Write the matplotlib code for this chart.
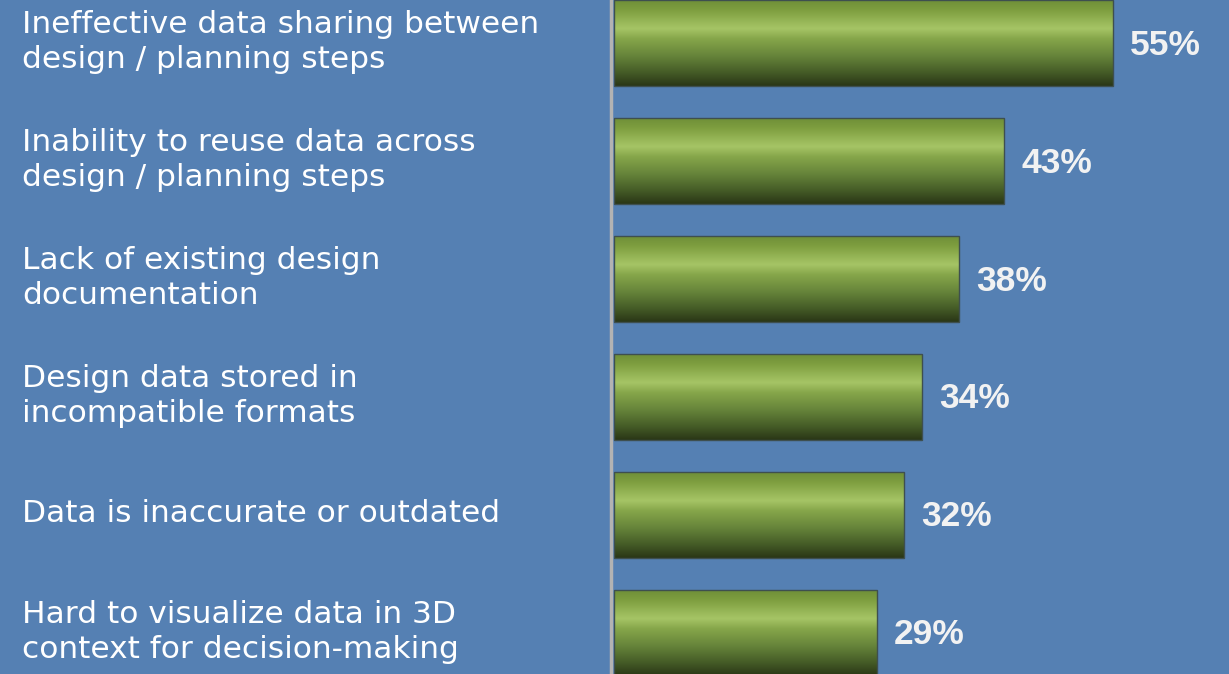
import matplotlib
matplotlib.use("Agg")
import matplotlib.pyplot as plt
import numpy as np
from matplotlib.colors import LinearSegmentedColormap

categories = [
    "Ineffective data sharing between\ndesign / planning steps",
    "Inability to reuse data across\ndesign / planning steps",
    "Lack of existing design\ndocumentation",
    "Design data stored in\nincompatible formats",
    "Data is inaccurate or outdated",
    "Hard to visualize data in 3D\ncontext for decision-making",
]
values = [55, 43, 38, 34, 32, 29]
value_labels = ["55%", "43%", "38%", "34%", "32%", "29%"]

W, H = 1229, 674
fig = plt.figure(figsize=(W / 100, H / 100), dpi=100)
bg = "#5580b3"
fig.patch.set_facecolor(bg)
ax = fig.add_axes([0, 0, 1, 1])
ax.set_facecolor(bg)

px_per_unit = (1113 - 614) / 55.0
x0_px = 614
ax.set_xlim(-x0_px / px_per_unit, (W - x0_px) / px_per_unit)
pitch = 118.0
c0 = 43.0
ax.set_ylim((H - c0) / pitch, -c0 / pitch)
ax.axis("off")

bar_h = 86 / pitch
cmap = LinearSegmentedColormap.from_list(
    "g",
    [(0.0, "#6f8f38"), (0.12, "#7f9f40"), (0.33, "#a6c566"), (0.45, "#86a64a"),
     (0.65, "#66843a"), (0.85, "#445a26"), (1.0, "#2a3616")],
)
grad = np.linspace(0, 1, 256).reshape(-1, 1)

ypos = np.arange(len(values))
bars = ax.barh(ypos, values, height=bar_h, left=0, color="none",
               edgecolor="#3e4f4f", linewidth=1.0, zorder=3)
for b in bars:
    x, y = b.get_x(), b.get_y()
    w, h = b.get_width(), b.get_height()
    im = ax.imshow(grad, cmap=cmap, aspect="auto", extent=(x, x + w, y + h, y),
                   zorder=2, interpolation="bicubic")
    im.set_clip_path(b)

ax.axvline(-3 / px_per_unit, color="#b3b3b3", linewidth=2.5, zorder=4)

for i, (cat, v, lab) in enumerate(zip(categories, values, value_labels)):
    ax.text(v + 17 / px_per_unit, i + 2 / pitch, lab, ha="left", va="center",
            fontsize=25.5, fontweight="bold", color="#f2f2f2",
            family="Liberation Sans")
    ax.text(-592 / px_per_unit, i - 1 / pitch, cat, ha="left", va="center",
            fontsize=22.5, color="white", family="DejaVu Sans", linespacing=1.27)

fig.savefig("out.png", dpi=100, facecolor=bg)
